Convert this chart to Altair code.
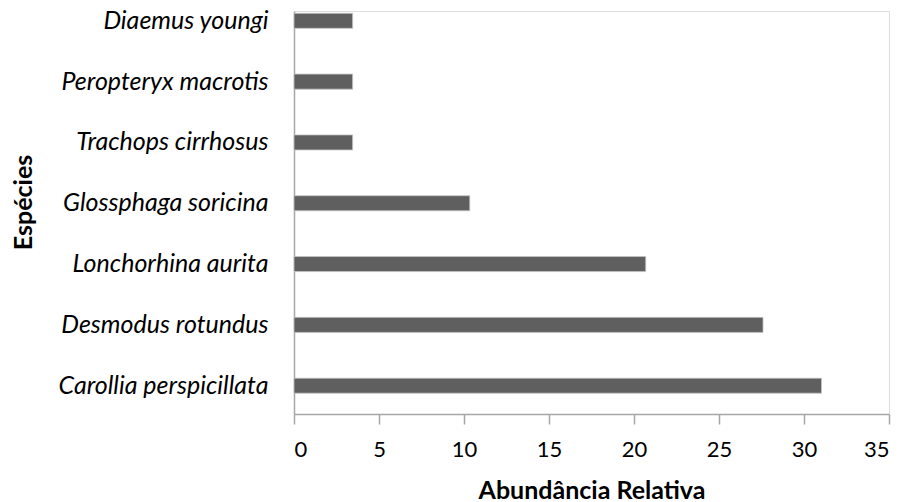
import altair as alt
import pandas as pd

# Relative abundance (%) of bat species
species = [
    "Diaemus youngi",
    "Peropteryx macrotis\u00a0",
    "Trachops cirrhosus",
    "Glossphaga soricina",
    "Lonchorhina aurita",
    "Desmodus rotundus",
    "Carollia perspicillata",
]
abundance = [3.45, 3.45, 3.45, 10.34, 20.69, 27.59, 31.03]
x_ticks = [0, 5, 10, 15, 20, 25, 30, 35]

df = pd.DataFrame({"Espécie": species, "Abundância": abundance})

FONT = "Lato"
AXIS_COLOR = "#a6a6a6"

chart = (
    alt.Chart(df)
    .mark_bar(color="#5f5f5f", stroke="#c4c4c4", strokeWidth=0.8)
    .encode(
        x=alt.X(
            "Abundância:Q",
            scale=alt.Scale(domain=[0, 35], nice=False, zero=True),
            axis=alt.Axis(
                values=x_ticks,
                title="Abundância Relativa",
                grid=False,
                domainColor=AXIS_COLOR,
                domainWidth=1.5,
                tickColor=AXIS_COLOR,
                tickWidth=1.5,
                tickSize=10,
                labelFont=FONT,
                labelFontSize=22,
                labelColor="#000000",
                labelPadding=15,
                titleFont=FONT,
                titleFontSize=25,
                titleFontWeight="bold",
                titleColor="#000000",
                titleBaseline="alphabetic",
                titleY=84,
            ),
        ),
        y=alt.Y(
            "Espécie:N",
            sort=species,
            scale=alt.Scale(paddingInner=0.753, paddingOuter=0.19, align=0.1),
            axis=alt.Axis(
                title="Espécies",
                ticks=False,
                domainColor=AXIS_COLOR,
                domainWidth=1.5,
                labelFont=FONT,
                labelFontSize=25,
                labelFontStyle="italic",
                labelColor="#000000",
                labelPadding=26,
                labelLimit=400,
                titleFont=FONT,
                titleFontSize=25,
                titleFontWeight="bold",
                titleColor="#000000",
                titleAngle=270,
                titleAlign="center",
                titleBaseline="middle",
                titleX=-271,
                titleY=191,
            ),
        ),
    )
    .properties(
        width=595,
        height=403,
        autosize=alt.AutoSizeParams(type="none"),
        padding={"left": 294, "top": 11, "right": 17, "bottom": 88},
    )
    .configure_view(stroke=None)
    .configure(background="#ffffff")
)

chart.save("out.html", embed_options={"renderer": "svg", "actions": False})
